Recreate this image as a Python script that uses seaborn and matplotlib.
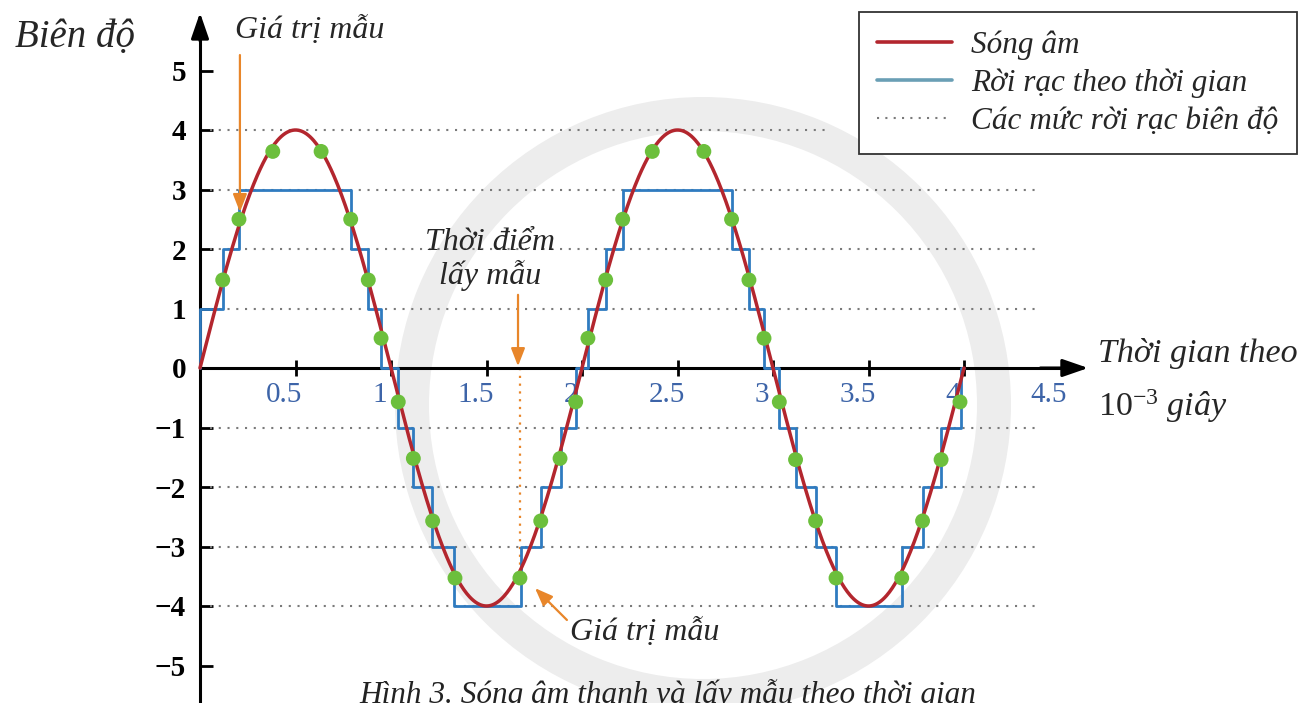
import numpy as np
import pandas as pd
import matplotlib
matplotlib.use("Agg")
import matplotlib.pyplot as plt
import matplotlib.transforms as mtransforms
from matplotlib.lines import Line2D
from matplotlib.patches import Annulus
import seaborn as sns

# ---------------- data ----------------
wave_amplitude = 4.0
wave_period = 2.0
wave_end = 4.0

sample_t = [0.119, 0.204, 0.381, 0.634, 0.789, 0.881, 0.948,
            1.038, 1.117, 1.218, 1.335, 1.675, 1.784, 1.885, 1.967,
            2.031, 2.124, 2.213, 2.368, 2.638, 2.783, 2.874, 2.953,
            3.033, 3.118, 3.223, 3.330, 3.674, 3.783, 3.880, 3.979]
sample_v = [1.48, 2.50, 3.64, 3.64, 2.50, 1.48, 0.50,
            -0.57, -1.52, -2.57, -3.53, -3.53, -2.57, -1.52, -0.57,
            0.50, 1.48, 2.50, 3.64, 3.64, 2.50, 1.48, 0.50,
            -0.57, -1.54, -2.57, -3.53, -3.53, -2.57, -1.54, -0.57]

step_t = [0.0, 0.0, 0.119, 0.204, 0.789, 0.881, 0.950,
          1.036, 1.116, 1.217, 1.330, 1.681, 1.786, 1.890, 1.966,
          2.031, 2.124, 2.213, 2.785, 2.874, 2.951,
          3.031, 3.119, 3.223, 3.328, 3.677, 3.784, 3.882, 3.982, 4.0]
step_level = [0, 1, 2, 3, 2, 1, 0,
              -1, -2, -3, -4, -3, -2, -1, 0,
              1, 2, 3, 2, 1, 0,
              -1, -2, -3, -4, -3, -2, -1, 0, 0]

levels = [-4, -3, -2, -1, 1, 2, 3, 4]
y_ticks = [-5, -4, -3, -2, -1, 0, 1, 2, 3, 4, 5]
x_ticks = [0.5, 1, 1.5, 2, 2.5, 3, 3.5, 4, 4.5]
x_tick_labels = ["0.5", "1", "1.5", "2", "2.5", "3", "3.5", "4", "4.5"]

legend_labels = ["Sóng âm", "Rời rạc theo thời gian", "Các mức rời rạc biên độ"]
y_title = "Biên độ"
x_title_1 = "Thời gian theo"
x_title_2 = r"$\mathit{10^{-3}}$ giây"
note_sample_value = "Giá trị mẫu"
note_sample_time = "Thời điểm\nlấy mẫu"
caption = "Hình 3. Sóng âm thanh và lấy mẫu theo thời gian"

# ---------------- style ----------------
sns.set_theme(style="white")
plt.rcParams["font.family"] = ["Liberation Serif", "DejaVu Serif"]
plt.rcParams["mathtext.fontset"] = "custom"
plt.rcParams["mathtext.it"] = "Liberation Serif:italic"
plt.rcParams["mathtext.rm"] = "Liberation Serif"

RED = "#b3262e"
BLUE = "#2f7bc0"
GREEN = "#6cbf3c"
ORANGE = "#e8862a"
GRID = "#7a7a7a"

fig = plt.figure(figsize=(13.04, 7.03), dpi=100)
fig.patch.set_facecolor("white")

# faint watermark ring (background decoration, behind the axes)
ring = Annulus((7.03, 2.98), 3.08, 0.34, transform=fig.dpi_scale_trans,
               facecolor="#ededed", edgecolor="none", zorder=-1)
fig.patches.append(ring)

ax = fig.add_axes([0, 0, 1, 1])
ax.set_facecolor("none")
ax.set_zorder(1)
XMIN, XMAX = -200 / 191, 1104 / 191
YMIN, YMAX = -335 / 59.5, 368 / 59.5
ax.set_xlim(XMIN, XMAX)
ax.set_ylim(YMIN, YMAX)

# discrete amplitude levels
for lv in levels:
    x_end = 3.3 if lv == 4 else 4.4
    ax.hlines(lv, 0.05, x_end, colors=GRID, linestyles=(0, (1, 3.2)), lw=1.5, zorder=1)

# sound wave
wave_t = np.linspace(0, wave_end, 800)
wave_df = pd.DataFrame({"t": wave_t,
                        "v": wave_amplitude * np.sin(2 * np.pi * wave_t / wave_period)})
sns.lineplot(data=wave_df, x="t", y="v", ax=ax, color=RED, lw=2.5,
             sort=False, estimator=None, zorder=4, legend=False)

# time-discrete staircase
step_df = pd.DataFrame({"t": step_t, "v": step_level})
sns.lineplot(data=step_df, x="t", y="v", ax=ax, color=BLUE, lw=2.0,
             drawstyle="steps-post", sort=False, estimator=None, zorder=3, legend=False)

# samples
samp_df = pd.DataFrame({"t": sample_t, "v": sample_v})
sns.scatterplot(data=samp_df, x="t", y="v", ax=ax, color=GREEN, s=115,
                edgecolor="none", zorder=5, legend=False)

ax.set_xlabel("")
ax.set_ylabel("")

# axes
for side in ["top", "right"]:
    ax.spines[side].set_visible(False)
ax.spines["left"].set_position(("data", 0))
ax.spines["bottom"].set_position(("data", 0))
ax.spines["left"].set_bounds(YMIN, 5.7)
ax.spines["bottom"].set_bounds(0, 4.5)
for side in ["left", "bottom"]:
    ax.spines[side].set_linewidth(2.2)
    ax.spines[side].set_color("black")
    ax.spines[side].set_zorder(2)

ap = dict(arrowstyle="-|>,head_length=1.3,head_width=0.45", color="black",
          lw=2.2, shrinkA=0, shrinkB=0)
ax.annotate("", xy=(0, 5.97), xytext=(0, 5.5), arrowprops=ap, annotation_clip=False)
ax.annotate("", xy=(4.65, 0), xytext=(4.4, 0), arrowprops=ap, annotation_clip=False)

ax.set_yticks(y_ticks)
ax.set_yticklabels([str(v).replace("-", "\u2212") for v in y_ticks])
ax.tick_params(axis="y", direction="in", length=9, width=2, labelsize=21, pad=10,
               colors="black", left=True)
for lab in ax.get_yticklabels():
    lab.set_fontweight("bold")

ax.set_xticks(x_ticks)
ax.set_xticklabels(x_tick_labels)
ax.tick_params(axis="x", direction="inout", length=12, width=2, labelsize=21, pad=4,
               labelcolor="#3d64a8", color="black", bottom=True)
ax.xaxis.get_major_ticks()[-1].tick1line.set_visible(False)
shift = mtransforms.ScaledTranslation(-11 / 100, 0, fig.dpi_scale_trans)
for lab in ax.get_xticklabels():
    lab.set_transform(lab.get_transform() + shift)
ax.grid(False)

# titles
ax.text(-0.654, 5.56, y_title, fontsize=28, style="italic", ha="center", va="center")
ax.text(4.70, 0.25, x_title_1, fontsize=24.5, style="italic", ha="left", va="center")
ax.text(4.70, -0.65, x_title_2, fontsize=24.5, style="italic", ha="left", va="center")

# annotations
oap = dict(arrowstyle="-|>,head_length=0.9,head_width=0.35", color=ORANGE,
           lw=1.6, shrinkA=0, shrinkB=0)
ax.text(0.576, 5.68, note_sample_value, fontsize=23, style="italic", ha="center", va="center")
ax.annotate("", xy=(0.209, 2.62), xytext=(0.209, 5.26), arrowprops=oap)

ax.text(1.518, 1.82, note_sample_time, fontsize=23, style="italic", ha="center",
        va="center", linespacing=1.1)
ax.annotate("", xy=(1.665, 0.03), xytext=(1.665, 1.23), arrowprops=oap)
ax.plot([1.675, 1.675], [0, -3.4], color=ORANGE, ls=(0, (1, 2.5)), lw=1.6, zorder=2)

ax.text(2.33, -4.44, note_sample_value, fontsize=23, style="italic", ha="center", va="center")
ax.annotate("", xy=(1.754, -3.70), xytext=(1.921, -4.235), arrowprops=oap)

ax.text(2.45, -5.63, caption, fontsize=22.5, style="italic", ha="center", va="baseline",
        color="#222222")

# legend
handles = [Line2D([], [], color=RED, lw=2.6),
           Line2D([], [], color="#6a9fb5", lw=2.6),
           Line2D([], [], color=GRID, lw=1.5, ls=(0, (1, 3)))]
leg = ax.legend(handles, legend_labels, loc="upper right",
                bbox_to_anchor=(1297 / 1304, 1 - 12 / 703), bbox_transform=fig.transFigure,
                prop={"family": "Liberation Serif", "style": "italic", "size": 22.5},
                frameon=True, fancybox=False, borderaxespad=0, borderpad=0.6,
                handlelength=2.4, handletextpad=0.6, labelspacing=0.27)
leg.get_frame().set_edgecolor("#333333")
leg.get_frame().set_linewidth(1.3)
leg.get_frame().set_facecolor("white")
leg.get_frame().set_alpha(1)

fig.savefig("out.png", dpi=100)
